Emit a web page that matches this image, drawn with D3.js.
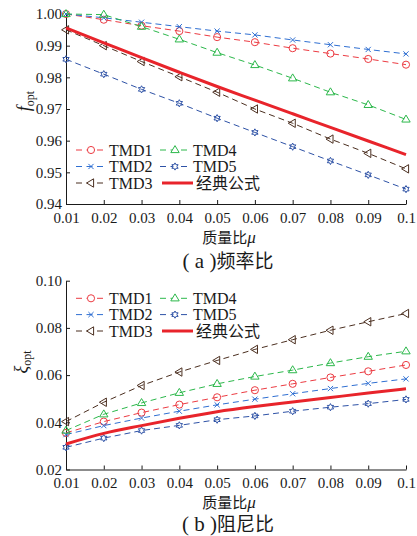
<!DOCTYPE html>
<html>
<head>
<meta charset="utf-8">
<script src="https://cdn.jsdelivr.net/npm/d3@7"></script>
<style>
  html, body { margin: 0; padding: 0; background: #fff; }
  svg { display: block; }
</style>
</head>
<body>
<div id="chart"></div>
<script>
// Mass ratio (x axis)
const massRatio = [0.01, 0.02, 0.03, 0.04, 0.05, 0.06, 0.07, 0.08, 0.09, 0.10];
const xTickLabels = ["0.01", "0.02", "0.03", "0.04", "0.05", "0.06", "0.07", "0.08", "0.09", "0.1"];

// (a) optimal frequency ratio
const freqTMD1 = [1.0000, 0.9982, 0.9963, 0.9946, 0.9927, 0.9911, 0.9892, 0.9875, 0.9858, 0.9840];
const freqTMD2 = [1.0000, 0.9988, 0.9974, 0.9960, 0.9946, 0.9934, 0.9918, 0.9903, 0.9888, 0.9874];
const freqTMD3 = [0.9950, 0.9900, 0.9850, 0.9802, 0.9753, 0.9700, 0.9655, 0.9605, 0.9560, 0.9511];
const freqTMD4 = [1.0000, 0.9998, 0.9960, 0.9920, 0.9878, 0.9839, 0.9797, 0.9753, 0.9713, 0.9667];
const freqTMD5 = [0.9857, 0.9810, 0.9762, 0.9718, 0.9671, 0.9626, 0.9581, 0.9536, 0.9492, 0.9447];
const freqClassic = [0.9956, 0.9909, 0.9862, 0.9816, 0.9771, 0.9728, 0.9685, 0.9642, 0.9599, 0.9556];
const freqTicks = [0.94, 0.95, 0.96, 0.97, 0.98, 0.99, 1.00];

// (b) optimal damping ratio
const dampTMD1 = [0.0355, 0.0403, 0.0441, 0.0475, 0.0506, 0.0536, 0.0563, 0.0590, 0.0616, 0.0643];
const dampTMD2 = [0.0348, 0.0386, 0.0418, 0.0447, 0.0474, 0.0498, 0.0521, 0.0543, 0.0565, 0.0584];
const dampTMD3 = [0.0403, 0.0485, 0.0556, 0.0613, 0.0662, 0.0709, 0.0750, 0.0790, 0.0826, 0.0861];
const dampTMD4 = [0.0365, 0.0434, 0.0482, 0.0525, 0.0563, 0.0594, 0.0621, 0.0651, 0.0678, 0.0701];
const dampTMD5 = [0.0294, 0.0333, 0.0365, 0.0387, 0.0411, 0.0427, 0.0447, 0.0464, 0.0479, 0.0497];
const dampClassic = [0.0308, 0.0353, 0.0386, 0.0417, 0.0445, 0.0467, 0.0486, 0.0505, 0.0524, 0.0542];
const dampTicks = [0.02, 0.04, 0.06, 0.08, 0.10];

const seriesNames = ["TMD1", "TMD2", "TMD3", "TMD4", "TMD5", "经典公式"];

const SERIF = "'Liberation Serif', 'DejaVu Serif', serif";
const CJK = "'Noto Sans CJK SC', sans-serif";
const INK = "#1a1a1a";

const W = 417, H = 536;
const svg = d3.select("#chart").append("svg").attr("width", W).attr("height", H);
svg.append("rect").attr("width", W).attr("height", H).attr("fill", "#fff");

// line style per series
const styles = {
  "TMD1": { color: "#ec3b42", marker: "circle" },
  "TMD2": { color: "#2f6fd2", marker: "cross" },
  "TMD3": { color: "#4b2f20", marker: "triLeft" },
  "TMD4": { color: "#2cb84b", marker: "triUp" },
  "TMD5": { color: "#2e52a6", marker: "hexagram" },
  "经典公式": { color: "#e8242b", marker: null }
};

function markerPath(type) {
  if (type === "circle") return d3.symbol(d3.symbolCircle, 40)();
  if (type === "cross") return "M-2.6,-2.6L2.6,2.6M-2.6,2.6L2.6,-2.6";
  if (type === "triUp") return "M0,-4.4L4.2,2.6L-4.2,2.6Z";
  if (type === "triLeft") return "M-4.4,0L2.6,-4.2L2.6,4.2Z";
  if (type === "hexagram") {
    const pts = [];
    for (let i = 0; i < 12; i++) {
      const r = i % 2 === 0 ? 3.6 : 2.0;
      const a = -Math.PI / 2 + i * Math.PI / 6;
      pts.push([r * Math.cos(a), r * Math.sin(a)]);
    }
    return "M" + pts.map(p => p[0].toFixed(2) + "," + p[1].toFixed(2)).join("L") + "Z";
  }
  return "";
}

function styleAxis(s) {
  s.attr("font-family", null).attr("font-size", null);
  s.selectAll("path, line").attr("stroke", INK).attr("stroke-width", 1);
  s.selectAll("text").style("font-family", SERIF).style("font-size", "15px").style("fill", INK);
}

function drawPanel(cfg) {
  const x = d3.scaleLinear().domain([0.01, 0.10]).range([66, 406]);
  const y = d3.scaleLinear().domain(cfg.yDomain).range([cfg.bottom, cfg.top]);
  const g = svg.append("g");

  // axes with inward ticks
  const xAxis = d3.axisBottom(x).tickValues(massRatio)
    .tickFormat((d, i) => xTickLabels[i]).tickSizeInner(-4).tickSizeOuter(0).tickPadding(8);
  const yAxis = d3.axisLeft(y).tickValues(cfg.yTicks)
    .tickFormat(d3.format(".2f")).tickSizeInner(-4).tickSizeOuter(0).tickPadding(4);

  g.append("g").attr("transform", `translate(0,${cfg.bottom})`).call(xAxis).call(styleAxis);
  g.append("g").attr("transform", `translate(66,0)`).call(yAxis).call(styleAxis);

  // data series
  const line = d3.line().x((d, i) => x(massRatio[i])).y(d => y(d));
  const smooth = d3.line().x((d, i) => x(massRatio[i])).y(d => y(d)).curve(d3.curveMonotoneX);

  cfg.series.forEach((vals, k) => {
    const name = seriesNames[k];
    const st = styles[name];
    if (!st.marker) {
      g.append("path").datum(vals).attr("d", smooth)
        .attr("fill", "none").attr("stroke", st.color).attr("stroke-width", 3);
      return;
    }
    g.append("path").datum(vals).attr("d", line)
      .attr("fill", "none").attr("stroke", st.color).attr("stroke-width", 1)
      .attr("stroke-dasharray", "6,4");
    g.selectAll(null).data(vals).enter().append("path")
      .attr("transform", (d, i) => `translate(${x(massRatio[i])},${y(d)})`)
      .attr("d", markerPath(st.marker))
      .attr("fill", "none").attr("stroke", st.color).attr("stroke-width", 1);
  });

  // legend: two columns, three rows
  const cols = [
    { x0: 76, names: ["TMD1", "TMD2", "TMD3"] },
    { x0: 160, names: ["TMD4", "TMD5", "经典公式"] }
  ];
  cols.forEach(col => {
    col.names.forEach((name, r) => {
      const st = styles[name];
      const ly = cfg.legendY[r];
      const lg = g.append("g");
      if (st.marker) {
        lg.append("line").attr("x1", col.x0).attr("x2", col.x0 + 30).attr("y1", ly).attr("y2", ly)
          .attr("stroke", st.color).attr("stroke-width", 1).attr("stroke-dasharray", "6,4.5");
        lg.append("path").attr("transform", `translate(${col.x0 + 15},${ly})`)
          .attr("d", markerPath(st.marker)).attr("fill", "#fff")
          .attr("stroke", st.color).attr("stroke-width", 1);
        lg.append("text").attr("x", col.x0 + 33).attr("y", ly + 5.5)
          .style("font-family", SERIF).style("font-size", "16px").style("fill", INK).text(name);
      } else {
        lg.append("line").attr("x1", col.x0 + 2).attr("x2", col.x0 + 33).attr("y1", ly).attr("y2", ly)
          .attr("stroke", st.color).attr("stroke-width", 3);
        lg.append("text").attr("x", col.x0 + 36).attr("y", ly + 6)
          .style("font-family", CJK).style("font-size", "16px").style("fill", INK).text(name);
      }
    });
  });

  // y axis title
  const yt = g.append("text").attr("transform", `translate(${cfg.yLabelX},${cfg.yLabelY}) rotate(-90)`)
    .attr("text-anchor", "middle");
  yt.append("tspan").style("font-family", SERIF).style("font-style", "italic")
    .style("font-size", "18px").style("fill", INK).text(cfg.ySymbol);
  yt.append("tspan").style("font-family", SERIF).style("font-size", "12px")
    .style("fill", INK).attr("dy", 4).text("opt");

  // x axis title
  const xt = g.append("text").attr("x", 229).attr("y", cfg.bottom + cfg.xTitleGap).attr("text-anchor", "middle");
  xt.append("tspan").style("font-family", CJK).style("font-size", "15px").style("fill", INK).text("质量比");
  xt.append("tspan").style("font-family", SERIF).style("font-style", "italic")
    .style("font-size", "17px").style("fill", INK).text("μ");

  // caption
  const cap = g.append("text").attr("x", 228).attr("y", cfg.bottom + cfg.captionGap).attr("text-anchor", "middle");
  cap.append("tspan").style("font-family", SERIF).style("font-size", "21px")
    .style("fill", INK).style("white-space", "pre").text(cfg.capLetter);
  cap.append("tspan").style("font-family", CJK).style("font-size", "19px").style("fill", INK).text(cfg.capText);
}

drawPanel({
  top: 14, bottom: 204,
  yDomain: [0.94, 1.00], yTicks: freqTicks,
  series: [freqTMD1, freqTMD2, freqTMD3, freqTMD4, freqTMD5, freqClassic],
  legendY: [150, 166.5, 183],
  ySymbol: "f", yLabelX: 30, yLabelY: 101,
  xTitleGap: 39, captionGap: 64,
  capLetter: "( a )", capText: "频率比"
});

drawPanel({
  top: 280.7, bottom: 469.5,
  yDomain: [0.02, 0.10], yTicks: dampTicks,
  series: [dampTMD1, dampTMD2, dampTMD3, dampTMD4, dampTMD5, dampClassic],
  legendY: [298.3, 314.6, 331],
  ySymbol: "ξ", yLabelX: 27, yLabelY: 362,
  xTitleGap: 38, captionGap: 61,
  capLetter: "( b )", capText: "阻尼比"
});
</script>
</body>
</html>
